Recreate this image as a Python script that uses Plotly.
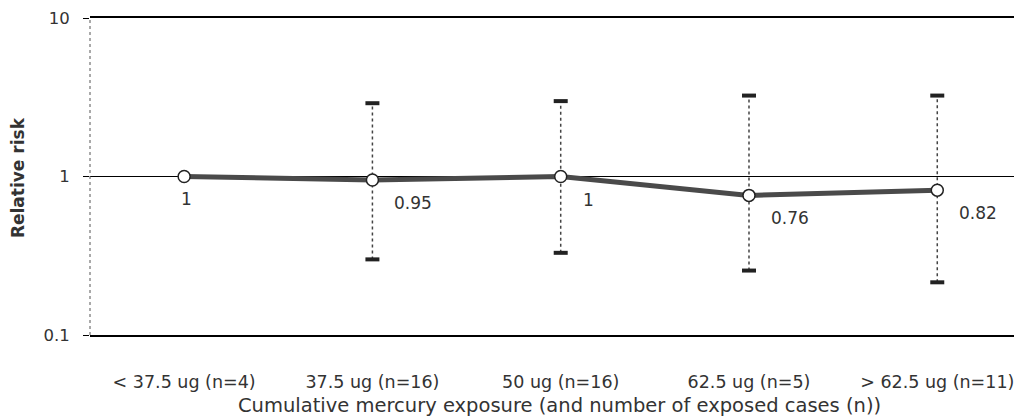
import math
import plotly.graph_objects as go

categories = ["< 37.5 ug (n=4)", "37.5 ug (n=16)", "50 ug (n=16)", "62.5 ug (n=5)", "> 62.5 ug (n=11)"]
relative_risk = [1.0, 0.95, 1.0, 0.76, 0.82]
ci_lower = [None, 0.30, 0.33, 0.255, 0.215]
ci_upper = [None, 2.90, 2.99, 3.24, 3.24]
y_ticks = [0.1, 1, 10]
y_tick_labels = ["0.1", "1", "10"]

FONT = "DejaVu Sans"
TXT = "#333333"
xs = list(range(len(categories)))

fig = go.Figure()

# confidence interval whiskers (dotted)
wx, wy = [], []
for x, lo, hi in zip(xs, ci_lower, ci_upper):
    if lo is None:
        continue
    wx += [x, x, None]
    wy += [lo, hi, None]
fig.add_trace(go.Scatter(x=wx, y=wy, mode="lines",
                         line=dict(color="#444444", width=1.5, dash="dot"),
                         hoverinfo="skip", showlegend=False))

# caps
cx, cy = [], []
for x, lo, hi in zip(xs, ci_lower, ci_upper):
    if lo is None:
        continue
    cx += [x, x]
    cy += [lo, hi]
fig.add_trace(go.Scatter(x=cx, y=cy, mode="markers",
                         marker=dict(symbol="line-ew", size=10,
                                     line=dict(color="#222222", width=4)),
                         hoverinfo="skip", showlegend=False))

# point estimates
fig.add_trace(go.Scatter(x=xs, y=relative_risk, mode="lines+markers",
                         line=dict(color="#4a4a4a", width=5),
                         marker=dict(symbol="circle", size=12, color="white",
                                     line=dict(color="#222222", width=1.5)),
                         showlegend=False))

annotations = []
for i, (x, v) in enumerate(zip(xs, relative_risk)):
    first = (i == 0)
    annotations.append(dict(x=x, y=math.log10(v), xref="x", yref="y",
                            text=f"{v:g}", showarrow=False,
                            xanchor="center" if first else "left",
                            yanchor="middle",
                            xshift=2 if first else 20,
                            yshift=-22 if first else -23,
                            font=dict(family=FONT, size=17, color=TXT)))

annotations.append(dict(x=0.504, y=0, xref="paper", yref="paper", yshift=-70,
                        text="Cumulative mercury exposure (and number of exposed cases (n))",
                        showarrow=False, xanchor="center", yanchor="middle",
                        font=dict(family=FONT, size=19.5, color=TXT)))
annotations.append(dict(x=0, y=0.495, xref="paper", yref="paper", xshift=-72,
                        text="<b>Relative risk</b>", textangle=-90,
                        showarrow=False, xanchor="center", yanchor="middle",
                        font=dict(family=FONT, size=17, color=TXT)))

# the page body has an 8px margin, so the figure is sized to end at the window edge
fig.update_layout(
    width=1014, height=409,
    margin=dict(l=82, r=0, t=10, b=82),
    paper_bgcolor="white", plot_bgcolor="white",
    annotations=annotations,
    shapes=[dict(type="line", xref="paper", yref="paper", x0=0, x1=0, y0=0, y1=1,
                 line=dict(color="#555555", width=1, dash="dot"))],
    xaxis=dict(range=[-0.5, 4.45], tickvals=xs, ticktext=categories,
               showgrid=False, zeroline=False, showline=True, mirror=True,
               linecolor="black", linewidth=1.5, ticks="",
               ticklabelstandoff=30,
               tickfont=dict(family=FONT, size=17.5, color=TXT)),
    yaxis=dict(type="log", range=[-1, 1], tickvals=y_ticks, ticktext=y_tick_labels,
               showgrid=True, gridcolor="black", gridwidth=1, zeroline=False,
               showline=False, ticks="outside", ticklen=6, tickcolor="black",
               ticklabelstandoff=10,
               tickfont=dict(family=FONT, size=16.5, color=TXT)),
)

fig.write_html("out.html")
